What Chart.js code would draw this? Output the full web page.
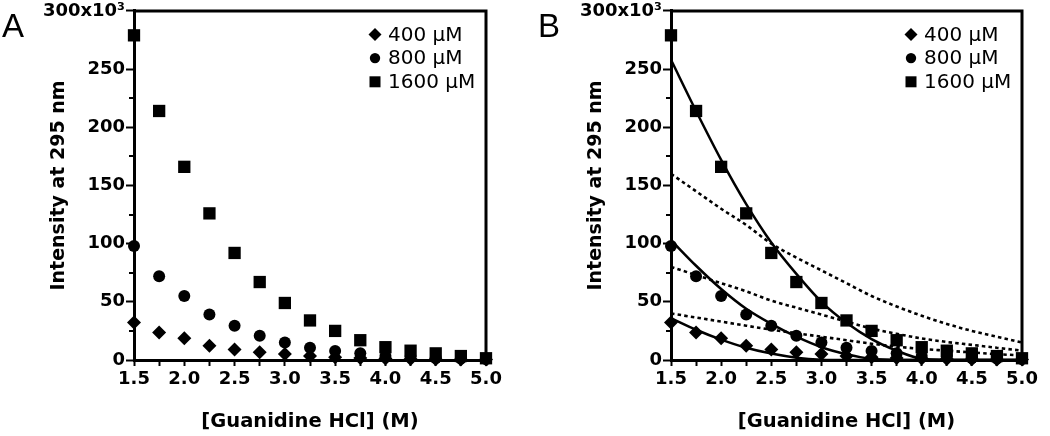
<!DOCTYPE html>
<html>
<head>
<meta charset="utf-8">
<script src="https://cdn.jsdelivr.net/npm/chart.js@4.4.0/dist/chart.umd.min.js"></script>
<style>
  html, body { margin: 0; padding: 0; background: #fff; }
  #wrap { position: relative; width: 1050px; height: 436px; }
  .panel { position: absolute; top: 0; width: 525px; height: 436px; }
  .letter { position: absolute; top: 9px; font: 33px "Liberation Sans", Arial, sans-serif; line-height: 1; color: #000; }
</style>
</head>
<body>
<div id="wrap">
  <div class="panel" style="left:0"><canvas id="chartA"></canvas></div>
  <div class="panel" style="left:525px"><canvas id="chartB"></canvas></div>
  <div class="letter" style="left:2px">A</div>
  <div class="letter" style="left:538px">B</div>
</div>
<script>
// guanidine concentration (M)
const guanidine = [1.5, 1.75, 2.0, 2.25, 2.5, 2.75, 3.0, 3.25, 3.5, 3.75, 4.0, 4.25, 4.5, 4.75, 5.0];

// measured intensity at 295 nm (x10^3)
const int400 = [32.3, 23.7, 18.6, 12.3, 9.1, 6.6, 5.1, 3.4, 2.3, 1.7, 1.2, 0.9, 0.7, 0.5, 0.4];
const int800 = [98, 72, 55, 39, 29.4, 20.8, 15.1, 10.6, 7.7, 5.7, 3.4, 2.5, 1.8, 1.2, 0.8];
const int1600 = [279, 214, 166, 126, 92, 67, 49, 34, 25, 17, 11, 8, 5.7, 3.4, 1.5];

// fitted curves in panel B
const fitSolid400 = [36, 26, 17.5, 10.5, 5.5, 2, 0.3, 0, 0, 0, 0, 0, 0, 0, 0];
const fitSolid800 = [103, 81, 61, 44, 31, 20, 11, 5, 1, 0, 0, 0, 0, 0, 0];
const fitSolid1600 = [258, 214, 172, 134, 101, 74, 50, 32, 18, 8, 1, 0, 0, 0, 0];
const fitDot400 = [40, 36.5, 33, 29.5, 26, 23, 20, 17, 14, 11.5, 9.5, 8, 6.5, 5, 4];
const fitDot800 = [80, 73, 66, 59, 51, 45, 39, 33, 27, 22.5, 18.5, 15.5, 13, 10.5, 8];
const fitDot1600 = [160, 145, 130, 116, 100, 88, 77, 66, 55, 46, 38, 31, 25, 20, 15];

const seriesLabels = ['400 \u03bcM', '800 \u03bcM', '1600 \u03bcM'];
const yTicks = [0, 50, 100, 150, 200, 250, 300];
const yMinorTicks = [25, 75, 125, 175, 225, 275];

Chart.defaults.font.family = '"DejaVu Sans", sans-serif';
Chart.defaults.color = '#000';

function pts(ys) {
    return guanidine.map((x, i) => ({x: x, y: ys[i]}));
}

function drawMarker(ctx, style, x, y) {
    ctx.beginPath();
    if (style === 'rectRot') {
        ctx.moveTo(x - 6.5, y); ctx.lineTo(x, y - 6.5);
        ctx.lineTo(x + 6.5, y); ctx.lineTo(x, y + 6.5);
        ctx.closePath();
    } else if (style === 'circle') {
        ctx.arc(x, y, 5.2, 0, Math.PI * 2);
    } else {
        ctx.rect(x - 5.5, y - 5.5, 11, 11);
    }
    ctx.fill();
}

const framePlugin = {
    id: 'frame',
    beforeDatasetsDraw(chart) {
        const {ctx, chartArea: a, scales: {y}} = chart;
        ctx.save();
        ctx.strokeStyle = '#000';
        ctx.lineWidth = 3;
        ctx.beginPath();
        ctx.moveTo(a.left, a.top);
        ctx.lineTo(a.right, a.top);
        ctx.lineTo(a.right, a.bottom);
        ctx.stroke();
        // minor ticks on y
        ctx.lineWidth = 2;
        yMinorTicks.forEach(v => {
            const py = Math.round(y.getPixelForValue(v));
            ctx.beginPath();
            ctx.moveTo(a.left, py);
            ctx.lineTo(a.left - 5, py);
            ctx.stroke();
        });
        ctx.restore();
    },
    afterDraw(chart) {
        const {ctx, chartArea: a} = chart;
        const styles = ['rectRot', 'circle', 'rect'];
        ctx.save();
        ctx.fillStyle = '#000';
        ctx.font = '20px "DejaVu Sans", sans-serif';
        ctx.textBaseline = 'middle';
        seriesLabels.forEach((label, i) => {
            const cy = a.top + 23.5 + i * 23.7;
            drawMarker(ctx, styles[i], a.right - 111, cy);
            ctx.fillText(label, a.right - 98, cy + 1);
        });
        ctx.restore();
    }
};

function makePanel(id, withFits, padLeft, padRight) {
    const datasets = [
        {label: seriesLabels[0], data: pts(int400), pointStyle: 'rectRot', pointRadius: 7},
        {label: seriesLabels[1], data: pts(int800), pointStyle: 'circle', pointRadius: 6},
        {label: seriesLabels[2], data: pts(int1600), pointStyle: 'rect', pointRadius: 8.7}
    ].map(d => Object.assign(d, {
        type: 'scatter', showLine: false, backgroundColor: '#000', borderColor: '#000',
        borderWidth: 0, pointBorderWidth: 0, clip: false, order: 0
    }));

    if (withFits) {
        const fits = [
            [fitSolid400, []], [fitSolid800, []], [fitSolid1600, []],
            [fitDot400, [3.5, 3.2]], [fitDot800, [3.5, 3.2]], [fitDot1600, [3.5, 3.2]]
        ];
        fits.forEach(f => {
            datasets.push({
                type: 'scatter', data: pts(f[0]), showLine: true, pointRadius: 0,
                borderColor: '#000', borderWidth: f[1].length ? 2.6 : 2.5, borderDash: f[1],
                cubicInterpolationMode: 'monotone', fill: false, order: 1
            });
        });
    }

    new Chart(document.getElementById(id), {
        type: 'scatter',
        data: {datasets: datasets},
        options: {
            responsive: true,
            maintainAspectRatio: false,
            animation: false,
            layout: {padding: {left: padLeft, right: padRight, top: 10, bottom: 0}},
            plugins: {legend: {display: false}, tooltip: {enabled: false}},
            scales: {
                x: {
                    type: 'linear', min: 1.5, max: 5.0,
                    afterFit: s => { s.height = 76; },
                    border: {color: '#000', width: 3},
                    grid: {drawOnChartArea: false, tickLength: 6, tickWidth: 2, tickColor: '#000'},
                    ticks: {
                        stepSize: 0.25, autoSkip: false, maxRotation: 0, padding: 3,
                        font: {size: 18, weight: 'bold', lineHeight: 1.1},
                        callback: v => (Math.round(v * 4) % 2 === 0 ? v.toFixed(1) : '')
                    },
                    title: {
                        display: true, text: '[Guanidine HCl] (M)',
                        font: {size: 19.5, weight: 'bold'}, padding: {top: 0, bottom: 2}
                    }
                },
                y: {
                    type: 'linear', min: 0, max: 300,
                    afterFit: s => { s.width = 134; },
                    afterBuildTicks: s => { s.ticks = yTicks.map(v => ({value: v})); },
                    border: {color: '#000', width: 3},
                    grid: {drawOnChartArea: false, tickLength: 8, tickWidth: 2, tickColor: '#000'},
                    ticks: {
                        padding: 1,
                        font: {size: 18, weight: 'bold', lineHeight: 1.1},
                        callback: v => (v === 300 ? '300x10\u00b3' : v)
                    },
                    title: {
                        display: true, text: 'Intensity at 295 nm',
                        font: {size: 19, weight: 'bold'}, padding: {top: 48, bottom: 0}
                    }
                }
            }
        },
        plugins: [framePlugin]
    });
}

makePanel('chartA', false, 0, 39);
makePanel('chartB', true, 12, 28);
</script>
</body>
</html>
